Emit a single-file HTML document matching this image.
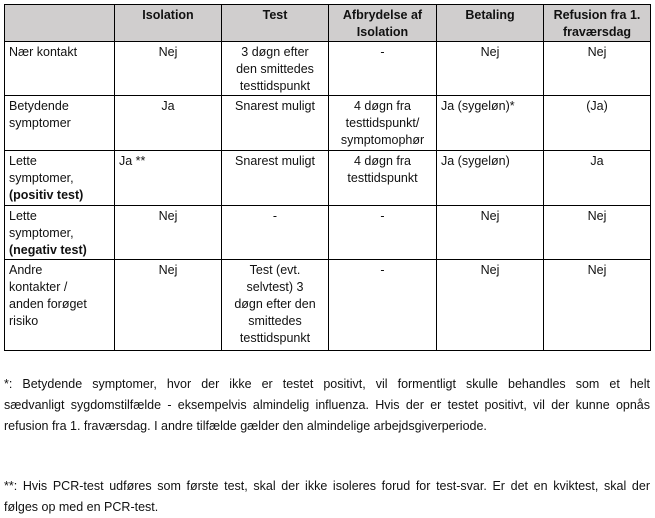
<!DOCTYPE html>
<html><head><meta charset="utf-8"><style>
body{margin:0;background:#fff;width:655px;height:517px;overflow:hidden;font-family:"Liberation Sans",sans-serif;color:#111;}
table{position:absolute;left:4px;top:4px;border-collapse:collapse;table-layout:fixed;width:646px;font-size:12.5px;line-height:17px;}
td,th{border:1px solid #000;vertical-align:top;padding:2px 4px 0 4px;text-align:center;white-space:nowrap;}
th{background:#d0cece;font-weight:bold;}
td:first-child{text-align:left;}
.f{position:absolute;left:4px;width:646px;font-size:12.5px;line-height:21px;}
.j{text-align:justify;text-align-last:justify;white-space:nowrap;}
</style></head><body>
<table>
<colgroup><col style="width:110px"><col style="width:107px"><col style="width:107px"><col style="width:108px"><col style="width:107px"><col style="width:107px"></colgroup>
<tr style="height:37px"><th>&nbsp;</th><th>Isolation</th><th>Test</th><th>Afbrydelse af<br>Isolation</th><th>Betaling</th><th>Refusion fra 1.<br>fraværsdag</th></tr>
<tr style="height:54px"><td>Nær kontakt</td><td>Nej</td><td>3 døgn efter<br>den smittedes<br>testtidspunkt</td><td>-</td><td>Nej</td><td>Nej</td></tr>
<tr style="height:55px"><td>Betydende<br>symptomer</td><td>Ja</td><td>Snarest muligt</td><td>4 døgn fra<br>testtidspunkt/<br>symptomophør</td><td style="text-align:left">Ja (sygeløn)*</td><td>(Ja)</td></tr>
<tr style="height:55px"><td>Lette<br>symptomer,<br><b>(positiv test)</b></td><td style="text-align:left">Ja **</td><td>Snarest muligt</td><td>4 døgn fra<br>testtidspunkt</td><td style="text-align:left">Ja (sygeløn)</td><td>Ja</td></tr>
<tr style="height:54px"><td>Lette<br>symptomer,<br><b>(negativ test)</b></td><td>Nej</td><td>-</td><td>-</td><td>Nej</td><td>Nej</td></tr>
<tr style="height:91px"><td>Andre<br>kontakter /<br>anden forøget<br>risiko</td><td>Nej</td><td>Test (evt.<br>selvtest) 3<br>døgn efter den<br>smittedes<br>testtidspunkt</td><td>-</td><td>Nej</td><td>Nej</td></tr>
</table>
<div class="f" style="top:374px">
<div class="j">*: Betydende symptomer, hvor der ikke er testet positivt, vil formentligt skulle behandles som et helt</div>
<div class="j">sædvanligt sygdomstilfælde - eksempelvis almindelig influenza. Hvis der er testet positivt, vil der kunne opnås</div>
<div>refusion fra 1. fraværsdag. I andre tilfælde gælder den almindelige arbejdsgiverperiode.</div>
</div>
<div class="f" style="top:476px">
<div class="j">**: Hvis PCR-test udføres som første test, skal der ikke isoleres forud for test-svar. Er det en kviktest, skal der</div>
<div>følges op med en PCR-test.</div>
</div>
</body></html>
